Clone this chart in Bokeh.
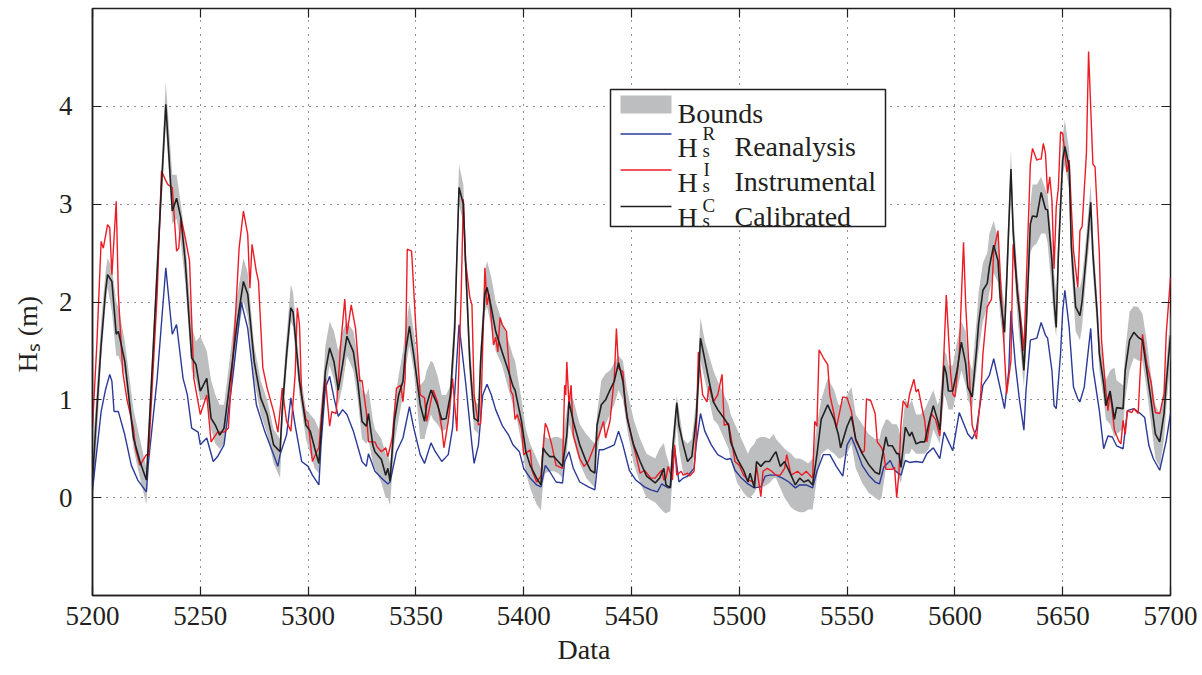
import math
from bokeh.plotting import figure
from bokeh.models import Range1d, FixedTicker, LinearAxis, Title
from bokeh.embed import file_html
from bokeh.resources import INLINE
from bokeh.core.properties import value

# ---------------- data ----------------
x_ticks = [5200, 5250, 5300, 5350, 5400, 5450, 5500, 5550, 5600, 5650, 5700]
y_ticks = [0, 1, 2, 3, 4]

cal_x = [5200, 5202, 5204, 5206, 5207, 5209, 5211, 5212, 5215, 5217,
         5219, 5222, 5225, 5228, 5231, 5234, 5237, 5239, 5241, 5243,
         5246, 5248, 5250, 5253, 5255, 5257, 5259, 5261, 5263, 5267,
         5270, 5272, 5275, 5278, 5281, 5284, 5287, 5288, 5290, 5292,
         5293, 5296, 5299, 5301, 5303, 5305, 5307, 5308, 5310, 5312,
         5314, 5316, 5318, 5321, 5323, 5325, 5327, 5328, 5330, 5331,
         5334, 5336, 5337, 5338, 5340, 5342, 5344, 5345, 5347, 5349,
         5352, 5354, 5355, 5357, 5358, 5360, 5362, 5364, 5366, 5368,
         5370, 5372, 5373, 5375, 5377, 5379, 5380, 5382, 5383, 5385,
         5387, 5390, 5393, 5395, 5396, 5399, 5401, 5403, 5406, 5408,
         5409, 5410, 5412, 5414, 5416, 5418, 5420, 5421, 5423, 5426,
         5429, 5431, 5433, 5434, 5436, 5438, 5440, 5442, 5444, 5446,
         5448, 5451, 5454, 5457, 5461, 5463, 5465, 5466, 5468, 5469,
         5471, 5472, 5474, 5476, 5478, 5480, 5481, 5482, 5484, 5486,
         5488, 5490, 5493, 5495, 5496, 5499, 5502, 5504, 5505, 5507,
         5508, 5510, 5512, 5514, 5516, 5517, 5519, 5521, 5524, 5526,
         5528, 5530, 5532, 5534, 5536, 5538, 5541, 5544, 5546, 5547,
         5550, 5552, 5554, 5557, 5560, 5563, 5565, 5566, 5568, 5569,
         5571, 5573, 5574, 5575, 5577, 5579, 5580, 5582, 5584, 5586,
         5588, 5590, 5592, 5593, 5595, 5596, 5597, 5599, 5601, 5603,
         5605, 5606, 5608, 5610, 5611, 5613, 5615, 5616, 5618, 5620,
         5621, 5623, 5624, 5626, 5627, 5629, 5630, 5632, 5633, 5635,
         5636, 5638, 5640, 5642, 5643, 5645, 5646, 5647, 5648, 5650,
         5651, 5653, 5654, 5656, 5658, 5659, 5661, 5663, 5664, 5666,
         5667, 5669, 5670, 5672, 5674, 5675, 5678, 5679, 5681, 5683,
         5685, 5687, 5689, 5691, 5693, 5695, 5697, 5698, 5700]

cal_y = [0.18, 0.90, 1.56, 2.10, 2.28, 2.21, 1.67, 1.70, 1.39, 1.00,
         0.61, 0.37, 0.18, 1.46, 2.76, 4.02, 2.93, 3.06, 2.86, 2.42,
         1.43, 1.36, 1.09, 1.22, 0.81, 0.74, 0.64, 0.71, 1.05, 1.77,
         2.21, 2.08, 1.39, 1.02, 0.85, 0.54, 0.47, 0.90, 1.46, 1.94,
         1.90, 1.19, 0.74, 0.68, 0.51, 0.35, 0.98, 1.29, 1.53, 1.39,
         1.10, 1.36, 1.65, 1.49, 1.19, 0.78, 0.73, 0.86, 0.54, 0.47,
         0.39, 0.23, 0.30, 0.17, 0.78, 1.05, 1.19, 1.46, 1.75, 1.46,
         0.95, 0.78, 0.95, 1.10, 1.05, 0.95, 0.80, 0.81, 1.05, 1.73,
         3.17, 3.00, 2.42, 1.39, 0.81, 0.78, 1.39, 2.08, 2.15, 1.94,
         1.70, 1.49, 1.29, 1.14, 1.10, 0.78, 0.47, 0.33, 0.20, 0.13,
         0.51, 0.47, 0.42, 0.42, 0.37, 0.32, 0.64, 0.98, 0.78, 0.54,
         0.37, 0.28, 0.25, 0.74, 0.95, 1.00, 1.10, 1.19, 1.38, 1.19,
         0.81, 0.54, 0.37, 0.22, 0.15, 0.20, 0.30, 0.13, 0.10, 0.47,
         0.97, 0.74, 0.54, 0.37, 0.42, 0.81, 1.19, 1.63, 1.41, 1.19,
         0.98, 0.90, 0.81, 0.74, 0.57, 0.40, 0.28, 0.16, 0.25, 0.10,
         0.37, 0.32, 0.37, 0.37, 0.44, 0.47, 0.32, 0.37, 0.23, 0.13,
         0.20, 0.16, 0.18, 0.13, 0.44, 0.80, 0.95, 0.80, 0.64, 0.51,
         0.73, 0.83, 0.60, 0.45, 0.34, 0.26, 0.24, 0.38, 0.62, 0.53,
         0.53, 0.45, 0.45, 0.31, 0.72, 0.63, 0.67, 0.55, 0.57, 0.57,
         0.77, 0.94, 0.79, 0.69, 1.35, 1.27, 1.09, 1.09, 1.30, 1.59,
         1.37, 1.13, 1.03, 1.50, 1.78, 2.12, 2.19, 2.36, 2.58, 2.42,
         2.05, 1.69, 2.20, 3.36, 2.73, 2.08, 1.88, 1.30, 1.71, 2.80,
         2.88, 2.87, 3.12, 2.95, 2.94, 2.42, 2.01, 1.74, 2.49, 3.45,
         3.59, 3.38, 2.56, 1.95, 1.86, 2.01, 2.49, 3.02, 2.49, 1.88,
         1.47, 1.16, 0.94, 1.09, 0.80, 0.92, 0.91, 1.30, 1.61, 1.69,
         1.64, 1.61, 1.30, 0.99, 0.65, 0.57, 0.86, 1.16, 1.66]

band_lo = [-0.08, 0.60, 1.40, 1.95, 2.15, 1.90, 1.45, 1.45, 1.25, 0.90,
           0.50, 0.20, -0.07, 1.30, 2.60, 3.80, 2.80, 2.85, 2.60, 2.20,
           1.30, 1.20, 1.00, 1.00, 0.70, 0.55, 0.50, 0.55, 0.85, 1.60,
           2.00, 1.85, 1.20, 0.85, 0.65, 0.35, 0.20, 0.70, 1.30, 1.80,
           1.75, 1.05, 0.60, 0.45, 0.30, 0.25, 0.85, 1.10, 1.35, 1.20,
           0.95, 1.15, 1.45, 1.30, 1.00, 0.60, 0.55, 0.60, 0.35, 0.30,
           0.15, 0.00, 0.00, -0.08, 0.55, 0.80, 1.05, 1.30, 1.55, 1.30,
           0.60, 0.60, 0.70, 0.85, 0.80, 0.75, 0.68, 0.70, 0.85, 1.50,
           3.00, 2.80, 2.20, 1.20, 0.70, 0.65, 1.20, 1.90, 1.95, 1.75,
           1.50, 1.35, 1.10, 0.95, 0.90, 0.55, 0.25, 0.10, -0.07, -0.13,
           0.15, 0.25, 0.27, 0.27, 0.25, 0.20, 0.45, 0.75, 0.60, 0.35,
           0.20, 0.15, 0.10, 0.45, 0.70, 0.75, 0.85, 0.95, 1.10, 1.00,
           0.70, 0.35, 0.15, 0.00, -0.05, -0.10, -0.15, -0.16, -0.14, 0.20,
           0.75, 0.50, 0.25, 0.20, 0.25, 0.60, 0.95, 1.40, 1.20, 1.00,
           0.80, 0.75, 0.60, 0.50, 0.40, 0.15, 0.05, 0.00, 0.00, 0.05,
           0.10, 0.10, 0.12, 0.15, 0.20, 0.20, 0.10, 0.00, -0.10, -0.13,
           -0.15, -0.15, -0.12, -0.12, 0.20, 0.45, 0.50, 0.45, 0.40, 0.40,
           0.45, 0.55, 0.30, 0.15, 0.05, 0.00, -0.03, 0.00, 0.30, 0.30,
           0.30, 0.25, 0.20, 0.15, 0.45, 0.45, 0.50, 0.45, 0.45, 0.45,
           0.50, 0.70, 0.60, 0.55, 1.05, 1.00, 0.90, 0.90, 1.10, 1.30,
           1.15, 1.00, 0.90, 1.30, 1.50, 1.80, 1.95, 2.10, 2.30, 2.20,
           1.85, 1.50, 2.00, 3.15, 2.50, 1.85, 1.60, 1.13, 1.50, 2.50,
           2.56, 2.60, 2.70, 2.70, 2.60, 2.10, 1.80, 1.64, 2.30, 3.30,
           3.40, 3.15, 2.35, 1.70, 1.61, 1.75, 2.30, 2.75, 2.30, 1.70,
           1.30, 1.00, 0.80, 0.75, 0.62, 0.65, 0.70, 1.00, 1.30, 1.43,
           1.40, 1.40, 1.10, 0.75, 0.40, 0.31, 0.60, 0.90, 1.43]

band_hi = [0.50, 1.10, 1.80, 2.30, 2.45, 2.35, 2.00, 1.95, 1.60, 1.25,
           0.90, 0.60, 0.30, 1.60, 2.95, 4.25, 3.30, 3.30, 3.00, 2.65,
           1.75, 1.60, 1.65, 1.50, 1.20, 1.05, 0.95, 0.95, 1.30, 2.05,
           2.45, 2.30, 1.55, 1.20, 1.00, 0.70, 0.60, 1.05, 1.65, 2.18,
           2.10, 1.35, 0.90, 0.85, 0.80, 0.70, 1.20, 1.55, 1.80, 1.70,
           1.50, 1.70, 1.80, 1.70, 1.45, 1.10, 1.05, 1.12, 0.80, 0.70,
           0.60, 0.45, 0.45, 0.35, 0.95, 1.25, 1.50, 1.70, 2.00, 1.70,
           1.15, 1.20, 1.30, 1.40, 1.38, 1.25, 1.05, 1.05, 1.15, 2.00,
           3.40, 3.20, 2.65, 1.60, 1.00, 0.95, 1.55, 2.30, 2.42, 2.25,
           2.00, 1.80, 1.60, 1.45, 1.40, 1.00, 0.70, 0.55, 0.40, 0.30,
           0.65, 0.62, 0.60, 0.62, 0.62, 0.60, 0.90, 1.05, 1.00, 0.75,
           0.65, 0.60, 0.55, 0.85, 1.20, 1.27, 1.30, 1.38, 1.45, 1.40,
           1.10, 0.80, 0.60, 0.45, 0.40, 0.50, 0.56, 0.45, 0.30, 0.60,
           1.05, 0.90, 0.60, 0.55, 0.60, 1.00, 1.40, 1.84, 1.60, 1.45,
           1.30, 1.19, 1.05, 0.95, 0.85, 0.70, 0.55, 0.45, 0.50, 0.55,
           0.60, 0.62, 0.62, 0.60, 0.65, 0.60, 0.55, 0.50, 0.45, 0.40,
           0.40, 0.38, 0.35, 0.40, 0.75, 1.00, 1.22, 1.10, 0.95, 0.95,
           1.05, 1.13, 0.85, 0.75, 0.65, 0.60, 0.60, 0.70, 0.80, 0.80,
           0.75, 0.75, 0.70, 0.60, 1.00, 0.95, 1.00, 0.85, 0.85, 0.90,
           1.00, 1.10, 0.95, 1.00, 1.50, 1.47, 1.35, 1.35, 1.60, 1.80,
           1.70, 1.45, 1.30, 1.80, 2.10, 2.40, 2.50, 2.70, 2.83, 2.65,
           2.30, 1.95, 2.45, 3.55, 2.95, 2.30, 2.10, 1.50, 1.90, 3.00,
           3.20, 3.20, 3.28, 3.15, 3.10, 2.60, 2.30, 2.10, 2.70, 3.70,
           3.86, 3.55, 2.80, 2.15, 2.15, 2.25, 2.70, 3.20, 2.70, 2.05,
           1.65, 1.35, 1.20, 1.30, 1.33, 1.20, 1.15, 1.50, 1.90, 1.96,
           1.95, 1.88, 1.60, 1.25, 0.95, 0.85, 1.10, 1.35, 1.90]

instrumental = [
    (5200, 0.72), (5202, 1.56), (5204, 2.62), (5205, 2.55), (5207, 2.79), (5208, 2.76),
    (5209, 2.28), (5211, 3.03), (5212, 2.08), (5214, 1.29), (5216, 1.00), (5219, 0.71),
    (5220, 0.50), (5222, 0.33), (5225, 0.44), (5226, 0.42), (5227, 0.85), (5230, 2.08),
    (5232, 3.34), (5234, 3.24), (5235, 3.20), (5237, 3.17), (5239, 2.52), (5240, 2.55),
    (5241, 2.86), (5243, 2.66), (5245, 2.42), (5247, 1.22), (5250, 0.85), (5253, 1.05),
    (5255, 0.57), (5258, 0.67), (5261, 0.67), (5263, 0.71), (5266, 1.73), (5268, 2.55),
    (5270, 2.93), (5272, 2.69), (5273, 2.14), (5274, 2.59), (5276, 2.31), (5277, 2.21),
    (5279, 1.33), (5281, 1.12), (5284, 0.88), (5286, 0.67), (5288, 1.12), (5290, 0.78),
    (5292, 0.68), (5294, 1.26), (5295, 1.94), (5296, 1.77), (5297, 1.05), (5299, 0.80),
    (5300, 0.78), (5302, 0.37), (5304, 0.47), (5305, 0.51), (5307, 1.05), (5308, 1.22),
    (5310, 0.73), (5311, 0.88), (5313, 0.86), (5315, 1.53), (5317, 2.03), (5318, 1.67),
    (5320, 1.97), (5322, 1.73), (5324, 1.19), (5325, 1.20), (5327, 0.88), (5328, 0.57),
    (5331, 0.57), (5332, 0.52), (5334, 0.47), (5336, 0.51), (5337, 0.42), (5339, 0.61),
    (5341, 1.12), (5343, 1.15), (5344, 0.98), (5345, 1.22), (5346, 2.54), (5348, 2.52),
    (5350, 1.73), (5352, 1.05), (5354, 1.02), (5355, 0.78), (5358, 1.10), (5360, 0.98),
    (5362, 0.71), (5363, 0.51), (5365, 0.78), (5367, 1.22), (5369, 0.68), (5371, 2.08),
    (5372, 3.05), (5373, 2.42), (5375, 2.05), (5376, 1.97), (5377, 1.05), (5379, 0.74),
    (5380, 0.76), (5382, 2.35), (5383, 1.97), (5384, 2.08), (5386, 1.56), (5387, 1.64),
    (5388, 1.49), (5389, 1.84), (5390, 1.77), (5392, 1.70), (5394, 1.09), (5395, 1.05),
    (5396, 0.80), (5397, 0.85), (5399, 0.71), (5400, 0.44), (5403, 0.49), (5404, 0.27),
    (5406, 0.16), (5408, 0.22), (5410, 0.76), (5411, 0.71), (5413, 0.54), (5415, 0.33),
    (5416, 0.32), (5418, 0.30), (5419, 1.15), (5419.5, 1.05), (5420, 1.39), (5421, 0.95),
    (5422, 1.15), (5423, 0.64), (5426, 0.40), (5428, 0.32), (5430, 0.37), (5433, 0.54),
    (5435, 0.64), (5437, 0.78), (5438, 0.61), (5440, 0.78), (5442, 1.22), (5443, 1.73),
    (5444, 1.32), (5446, 1.29), (5447, 0.95), (5450, 0.61), (5452, 0.44), (5454, 0.25),
    (5456, 0.28), (5459, 0.20), (5461, 0.20), (5462, 0.23), (5464, 0.28), (5465, 0.18),
    (5466, 0.20), (5467, 0.32), (5469, 0.18), (5470, 0.54), (5471, 0.23), (5473, 0.27),
    (5474, 0.23), (5476, 0.25), (5477, 0.22), (5479, 0.27), (5480, 0.61), (5481, 1.49),
    (5483, 1.05), (5485, 0.98), (5486, 1.14), (5488, 0.98), (5490, 1.05), (5492, 1.26),
    (5493, 0.74), (5495, 0.76), (5496, 0.64), (5498, 0.37), (5500, 0.33), (5502, 0.23),
    (5504, 0.18), (5507, 0.16), (5508, 0.32), (5510, 0.01), (5511, 0.27), (5513, 0.30),
    (5515, 0.27), (5517, 0.23), (5519, 0.23), (5521, 0.30), (5522, 0.44), (5524, 0.23),
    (5527, 0.27), (5529, 0.23), (5531, 0.27), (5534, 0.20), (5535, 0.78), (5536, 0.73),
    (5537, 1.51), (5539, 1.43), (5541, 1.36), (5542, 1.05), (5544, 0.85), (5545, 0.71),
    (5548, 1.03), (5550, 1.02), (5552, 0.88), (5553, 0.74), (5554, 0.58), (5557, 0.46),
    (5558, 0.48), (5559, 1.01), (5561, 0.99), (5563, 0.86), (5564, 0.57), (5566, 0.51),
    (5567, 0.45), (5568, 0.29), (5571, 0.29), (5572, 0.31), (5573, 0.00), (5574, 0.24),
    (5575, 0.75), (5576, 0.99), (5578, 0.92), (5579, 1.06), (5581, 1.21), (5582, 1.08),
    (5583, 1.11), (5585, 0.89), (5586, 0.79), (5587, 0.57), (5589, 0.86), (5591, 0.80),
    (5593, 0.63), (5594, 0.99), (5596, 2.07), (5598, 1.27), (5599, 1.06), (5600, 1.03),
    (5602, 1.47), (5604, 2.61), (5605, 1.98), (5607, 1.13), (5608, 0.74), (5610, 0.60),
    (5612, 1.06), (5613, 1.47), (5615, 1.95), (5617, 2.03), (5618, 2.52), (5620, 2.73),
    (5621, 2.30), (5623, 1.47), (5624, 1.06), (5626, 1.40), (5627, 2.59), (5629, 2.12),
    (5631, 1.74), (5632, 1.50), (5634, 2.77), (5635, 3.41), (5636, 3.57), (5638, 3.45),
    (5639, 3.46), (5640, 3.46), (5641, 3.62), (5642, 3.52), (5643, 3.11), (5644, 3.28),
    (5645, 3.04), (5646, 2.34), (5647, 2.97), (5648, 3.17), (5649, 3.74), (5650, 3.72),
    (5652, 3.33), (5653, 3.45), (5654, 2.97), (5655, 2.53), (5657, 2.15), (5658, 2.73),
    (5659, 2.77), (5661, 3.52), (5662, 4.56), (5664, 3.41), (5665, 3.38), (5667, 2.49),
    (5668, 1.61), (5670, 1.09), (5671, 0.89), (5672, 1.08), (5674, 0.69), (5676, 0.58),
    (5677, 0.55), (5678, 0.79), (5679, 0.65), (5680, 0.89), (5682, 0.87), (5683, 0.91),
    (5685, 0.86), (5686, 1.30), (5687, 1.67), (5689, 1.37), (5691, 1.18), (5692, 0.99),
    (5693, 0.87), (5695, 0.86), (5697, 1.06), (5698, 1.67), (5700, 2.25)]

reanalysis = [
    (5200, 0.08), (5204, 0.88), (5206, 1.10), (5208, 1.26), (5209, 1.19), (5210, 0.88),
    (5212, 0.88), (5215, 0.64), (5218, 0.33), (5221, 0.18), (5225, 0.06), (5226, 0.37),
    (5230, 1.22), (5234, 2.35), (5237, 1.67), (5239, 1.77), (5242, 1.22), (5244, 1.05),
    (5246, 0.71), (5249, 0.67), (5250, 0.54), (5253, 0.61), (5256, 0.37), (5258, 0.42),
    (5261, 0.54), (5265, 1.22), (5269, 2.00), (5272, 1.73), (5276, 0.95), (5280, 0.67),
    (5284, 0.44), (5286, 0.32), (5287, 0.44), (5290, 0.64), (5292, 1.02), (5294, 0.74),
    (5297, 0.37), (5300, 0.32), (5302, 0.23), (5305, 0.13), (5306, 0.54), (5308, 1.12),
    (5310, 1.24), (5312, 1.02), (5314, 0.83), (5316, 0.90), (5318, 0.85), (5321, 0.68),
    (5325, 0.37), (5327, 0.32), (5328, 0.45), (5331, 0.27), (5334, 0.20), (5337, 0.14),
    (5338, 0.16), (5341, 0.47), (5344, 0.61), (5347, 0.93), (5349, 0.71), (5352, 0.44),
    (5354, 0.35), (5357, 0.56), (5359, 0.47), (5362, 0.37), (5365, 0.44), (5367, 0.71),
    (5370, 1.77), (5373, 1.19), (5376, 0.54), (5377, 0.35), (5379, 0.54), (5381, 1.05),
    (5383, 1.16), (5385, 1.05), (5387, 0.90), (5390, 0.74), (5393, 0.64), (5395, 0.54),
    (5398, 0.47), (5400, 0.30), (5403, 0.20), (5406, 0.13), (5408, 0.11), (5410, 0.33),
    (5412, 0.27), (5415, 0.16), (5418, 0.15), (5419, 0.37), (5421, 0.47), (5423, 0.30),
    (5426, 0.16), (5430, 0.11), (5433, 0.08), (5435, 0.49), (5437, 0.49), (5440, 0.52),
    (5442, 0.54), (5444, 0.68), (5446, 0.54), (5449, 0.28), (5452, 0.18), (5456, 0.11),
    (5459, 0.08), (5462, 0.06), (5464, 0.14), (5467, 0.10), (5468, 0.11), (5470, 0.51),
    (5472, 0.16), (5474, 0.20), (5476, 0.22), (5479, 0.30), (5480, 0.54), (5482, 0.86),
    (5484, 0.68), (5487, 0.54), (5490, 0.44), (5494, 0.39), (5496, 0.40), (5498, 0.28),
    (5501, 0.20), (5504, 0.14), (5507, 0.10), (5510, 0.11), (5512, 0.22), (5514, 0.23),
    (5517, 0.23), (5520, 0.20), (5523, 0.16), (5526, 0.10), (5528, 0.13), (5531, 0.13),
    (5534, 0.10), (5536, 0.27), (5539, 0.44), (5542, 0.44), (5545, 0.32), (5548, 0.22),
    (5550, 0.54), (5552, 0.62), (5554, 0.51), (5557, 0.33), (5560, 0.23), (5563, 0.16),
    (5565, 0.14), (5567, 0.31), (5570, 0.38), (5572, 0.28), (5575, 0.23), (5577, 0.38),
    (5579, 0.36), (5582, 0.37), (5585, 0.36), (5587, 0.45), (5590, 0.51), (5593, 0.40),
    (5595, 0.67), (5599, 0.48), (5602, 0.87), (5606, 0.65), (5608, 0.60), (5610, 0.70),
    (5613, 1.15), (5616, 1.25), (5618, 1.42), (5621, 1.12), (5623, 0.91), (5625, 1.30),
    (5626, 1.91), (5628, 1.37), (5630, 0.99), (5632, 0.69), (5633, 1.10), (5635, 1.61),
    (5638, 1.63), (5640, 1.79), (5642, 1.66), (5643, 1.63), (5645, 1.30), (5646, 0.94),
    (5647, 0.91), (5649, 1.47), (5650, 1.91), (5651, 2.12), (5653, 1.74), (5655, 1.13),
    (5657, 1.01), (5658, 0.98), (5660, 1.13), (5663, 1.73), (5664, 1.33), (5667, 0.89),
    (5669, 0.50), (5671, 0.63), (5673, 0.62), (5675, 0.53), (5678, 0.50), (5680, 0.89),
    (5683, 0.91), (5686, 0.86), (5688, 0.82), (5690, 0.53), (5692, 0.40), (5695, 0.28),
    (5696, 0.38), (5698, 0.58), (5700, 0.86)]

assert len(cal_x) == len(cal_y) == len(band_lo) == len(band_hi)

# ---------------- styling ----------------
C_BAND = "#BCBEC0"
C_BLUE = "#2B3A97"
C_RED = "#EC1C24"
C_BLACK = "#231F20"
FONT = "Liberation Serif"

W, H = 1200, 672
BL, BT = 92, 8
BR = W - 1170
BB = H - 595

p = figure(width=W, height=H, output_backend="svg", toolbar_location=None,
           x_range=Range1d(5200, 5700), y_range=Range1d(-1, 5),
           min_border_left=BL, min_border_right=BR, min_border_top=BT,
           min_border_bottom=BB)
p.background_fill_color = "white"
p.border_fill_color = "white"
p.outline_line_color = C_BLACK
p.outline_line_width = 1.5

for ax in (p.xaxis[0], p.yaxis[0]):
    ax.major_tick_in = 9
    ax.major_tick_out = 0
    ax.minor_tick_line_color = None
    ax.major_tick_line_color = C_BLACK
    ax.major_tick_line_width = 1.2
    ax.axis_line_color = C_BLACK
    ax.axis_line_width = 1.5
    ax.major_label_text_font = FONT
    ax.major_label_text_font_size = "27px"
    ax.major_label_text_color = C_BLACK
p.xaxis.ticker = FixedTicker(ticks=x_ticks)
p.yaxis.ticker = FixedTicker(ticks=y_ticks)
p.xaxis.major_label_standoff = 11
p.yaxis.major_label_standoff = 20

for t, loc in ((x_ticks, "above"), (y_ticks, "right")):
    a = LinearAxis(ticker=FixedTicker(ticks=t),
                   major_label_overrides={v: "" for v in t},
                   major_label_text_font_size="1px",
                   major_label_standoff=0,
                   major_tick_in=9, major_tick_out=0,
                   major_tick_line_color=C_BLACK, major_tick_line_width=1.2,
                   minor_tick_line_color=None, axis_line_color=None)
    p.add_layout(a, loc)

p.xgrid.ticker = FixedTicker(ticks=x_ticks)
p.ygrid.ticker = FixedTicker(ticks=y_ticks)
for g in (p.xgrid[0], p.ygrid[0]):
    g.grid_line_color = "#222222"
    g.grid_line_dash = "1 6"
    g.grid_line_width = 1

# ---------------- data glyphs ----------------
p.varea(x=cal_x, y1=band_lo, y2=band_hi, fill_color=C_BAND, fill_alpha=1.0)
p.line([a for a, _ in reanalysis], [b for _, b in reanalysis], line_color=C_BLUE, line_width=1.4)
p.line([a for a, _ in instrumental], [b for _, b in instrumental], line_color=C_RED, line_width=1.4)
p.line(cal_x, cal_y, line_color=C_BLACK, line_width=1.6)

# ---------------- page-pixel -> data helpers for layout ----------------
FL, FR, FT, FB = BL, W - BR, BT, H - BB


def dx(px):
    return 5200 + (px - FL) * 500.0 / (FR - FL)


def dy(py):
    return 5 - (py - FT) * 6.0 / (FB - FT)


# ---------------- legend (hand built) ----------------
p.quad(left=[dx(610)], right=[dx(885)], top=[dy(89)], bottom=[dy(226)],
       fill_color="white", line_color=C_BLACK, line_width=1.5, level="overlay")
p.quad(left=[dx(620)], right=[dx(671)], top=[dy(95)], bottom=[dy(113)],
       fill_color=C_BAND, line_color=None, level="overlay")
p.segment(x0=[dx(620)] * 3, x1=[dx(671)] * 3,
          y0=[dy(133.5), dy(169.5), dy(206)], y1=[dy(133.5), dy(169.5), dy(206)],
          line_color=[C_BLUE, C_RED, C_BLACK], line_width=1.4, level="overlay")

big_txt = ["Bounds", "H", "Reanalysis", "H", "Instrumental", "H", "Calibrated"]
big_px = [677, 677, 734, 677, 734, 677, 734]
big_py = [113, 147, 146, 182, 181, 217, 216]
p.text(x=[dx(v) for v in big_px], y=[dy(v) for v in big_py], text=big_txt,
       text_font=value(FONT), text_font_size="28px", text_color=C_BLACK,
       text_align="left", text_baseline="alphabetic", level="overlay")
sm_txt = ["R", "s", "I", "s", "C", "s"]
sm_px = [702, 702, 703, 702, 702, 702]
sm_py = [133, 150, 169, 185, 205, 220]
p.text(x=[dx(v) for v in sm_px], y=[dy(v) for v in sm_py], text=sm_txt,
       text_font=value(FONT), text_font_size="19px", text_color=C_BLACK,
       text_align="left", text_baseline="alphabetic", level="overlay")

# ---------------- axis titles ----------------
xlab = Title(text="Data", align="left", offset=465, text_font=FONT,
             text_font_size="28px", text_font_style="normal",
             text_color=C_BLACK, standoff=9)
p.add_layout(xlab, "below")
ylab = Title(text="Hₛ (m)", align="left", vertical_align="top", offset=223,
             text_font=FONT, text_font_size="28px", text_font_style="normal",
             text_color=C_BLACK, standoff=21)
p.add_layout(ylab, "left")

open("out.html", "w").write(file_html(p, INLINE))
